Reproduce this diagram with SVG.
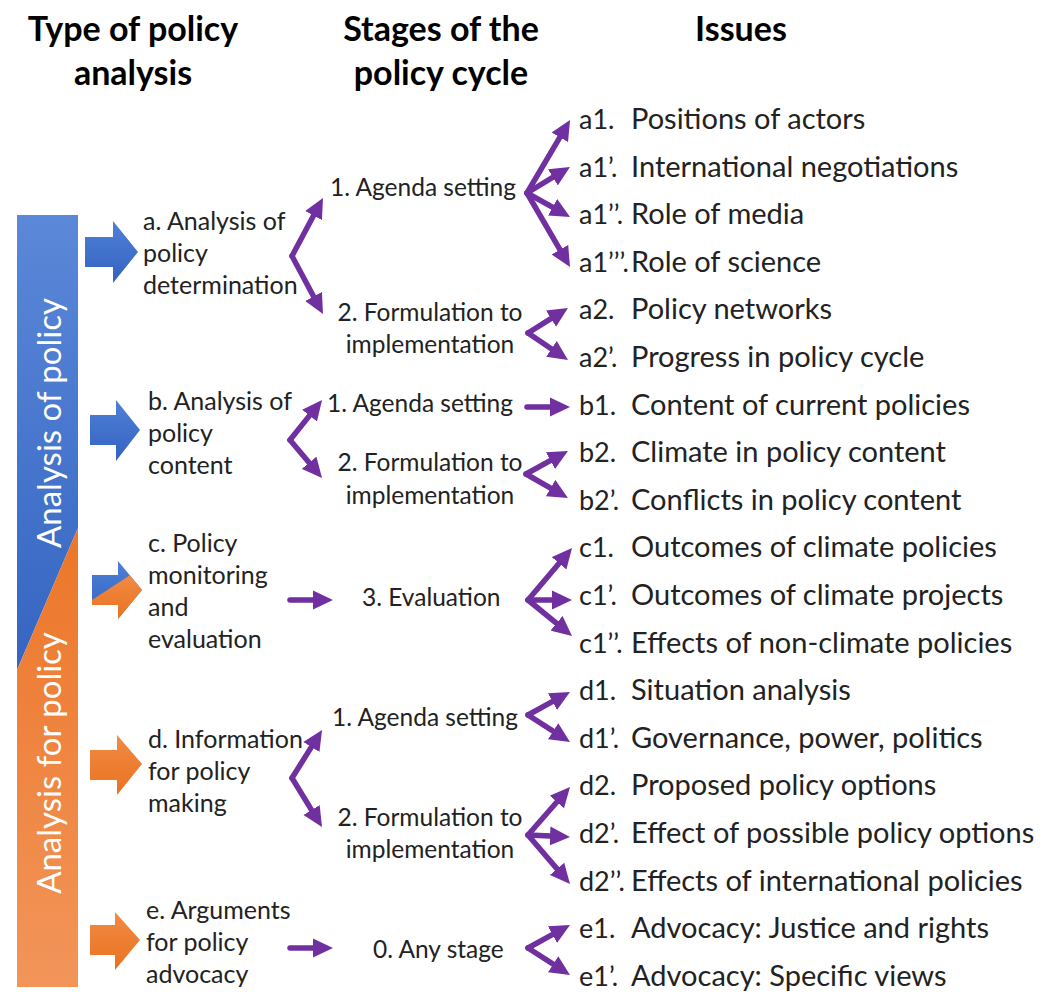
<svg xmlns="http://www.w3.org/2000/svg" width="1040" height="993" viewBox="0 0 1040 993">
<defs>
<linearGradient id="gBlue" x1="0" y1="0" x2="0" y2="1"><stop offset="0" stop-color="#5b88d8"/><stop offset="1" stop-color="#3565c2"/></linearGradient>
<linearGradient id="gOrange" x1="0" y1="0" x2="0" y2="1"><stop offset="0" stop-color="#ec7628"/><stop offset="1" stop-color="#f2955a"/></linearGradient>
<linearGradient id="gArB" x1="0" y1="0" x2="0" y2="1"><stop offset="0" stop-color="#4f80d6"/><stop offset="1" stop-color="#3363c0"/></linearGradient>
<linearGradient id="gArO" x1="0" y1="0" x2="0" y2="1"><stop offset="0" stop-color="#f28a45"/><stop offset="1" stop-color="#e8731f"/></linearGradient>
<marker id="ah" viewBox="0 0 20 20" markerUnits="userSpaceOnUse" markerWidth="20" markerHeight="20" refX="6" refY="10" orient="auto"><path d="M0,0.5 L20,10 L0,19.5 z" fill="#7030A0"/></marker>
</defs>
<style>
text{font-family:Lato,"Open Sans","Liberation Sans",sans-serif;fill:#222;}
.h{font-size:34px;font-weight:bold;fill:#000;text-anchor:middle;}
.t1{font-size:25px;}
.t2{font-size:24.5px;}
.t3{font-size:29px;}
.l{font-size:27px;}
.m{text-anchor:middle;}
.bar{font-size:33px;fill:#fff;text-anchor:middle;}
.c{stroke:#7030A0;stroke-width:5.5;fill:none;stroke-linecap:round;marker-end:url(#ah);}
</style>
<rect width="1040" height="993" fill="#fff"/>

<g id="headers">
<text class="h" x="133" y="41">Type of policy</text>
<text class="h" x="133" y="85">analysis</text>
<text class="h" x="441" y="41">Stages of the</text>
<text class="h" x="441" y="85">policy cycle</text>
<text class="h" x="741" y="41">Issues</text>
</g>

<g id="sidebar">
<polygon points="17,215 78,215 78,528 17,670" fill="url(#gBlue)"/>
<polygon points="78,528 78,987 17,987 17,670" fill="url(#gOrange)"/>
<text class="bar" transform="translate(61,423) rotate(-90)">Analysis of policy</text>
<text class="bar" transform="translate(61,763) rotate(-90)">Analysis for policy</text>
</g>

<g id="type-a">
<polygon points="85,237 113,237 113,221 138,252 113,283 113,267 85,267" fill="url(#gArB)"/>
<text class="t1" x="143" y="230">a. Analysis of</text>
<text class="t1" x="143" y="262">policy</text>
<text class="t1" x="143" y="294">determination</text>
</g>
<g id="type-b">
<polygon points="90,415 116,415 116,400 140,430 116,461 116,445 90,445" fill="url(#gArB)"/>
<text class="t1" x="148" y="410">b. Analysis of</text>
<text class="t1" x="148" y="442">policy</text>
<text class="t1" x="148" y="474">content</text>
</g>
<g id="type-c">
<polygon points="92,575 118,575 118,561 142,590 118,619 118,605 92,605" fill="url(#gArB)"/>
<polygon points="92,600 129.9,575.3 142,590 118,619 118,605 92,605" fill="url(#gArO)"/>
<text class="t1" x="148" y="552">c. Policy</text>
<text class="t1" x="148" y="584">monitoring</text>
<text class="t1" x="148" y="616">and</text>
<text class="t1" x="148" y="648">evaluation</text>
</g>
<g id="type-d">
<polygon points="90,750 117,750 117,735 142,764 117,795 117,780 90,780" fill="url(#gArO)"/>
<text class="t1" x="148" y="748">d. Information</text>
<text class="t1" x="148" y="780">for policy</text>
<text class="t1" x="148" y="812">making</text>
</g>
<g id="type-e">
<polygon points="90,925 115,925 115,912 140,940 115,970 115,955 90,955" fill="url(#gArO)"/>
<text class="t1" x="146" y="919">e. Arguments</text>
<text class="t1" x="146" y="951">for policy</text>
<text class="t1" x="146" y="983">advocacy</text>
</g>

<g id="stages">
<text class="t2" x="330" y="196">1. Agenda setting</text>
<text class="t2 m" x="430" y="321">2. Formulation to</text>
<text class="t2 m" x="430" y="353">implementation</text>
<text class="t2" x="327" y="412">1. Agenda setting</text>
<text class="t2 m" x="430" y="471">2. Formulation to</text>
<text class="t2 m" x="430" y="504">implementation</text>
<text class="t2" x="362" y="606">3. Evaluation</text>
<text class="t2" x="332" y="726">1. Agenda setting</text>
<text class="t2 m" x="430" y="826">2. Formulation to</text>
<text class="t2 m" x="430" y="858">implementation</text>
<text class="t2" x="373" y="958">0. Any stage</text>
</g>

<g id="issues">
<text class="l" x="579" y="129">a1.</text><text class="t3" x="631" y="129">Positions of actors</text>
<text class="l" x="579" y="177">a1’.</text><text class="t3" x="631" y="177">International negotiations</text>
<text class="l" x="579" y="224">a1’’.</text><text class="t3" x="631" y="224">Role of media</text>
<text class="l" x="579" y="272">a1’’’.</text><text class="t3" x="631" y="272">Role of science</text>
<text class="l" x="579" y="319">a2.</text><text class="t3" x="631" y="319">Policy networks</text>
<text class="l" x="579" y="367">a2’.</text><text class="t3" x="631" y="367">Progress in policy cycle</text>
<text class="l" x="579" y="415">b1.</text><text class="t3" x="631" y="415">Content of current policies</text>
<text class="l" x="579" y="462">b2.</text><text class="t3" x="631" y="462">Climate in policy content</text>
<text class="l" x="579" y="510">b2’.</text><text class="t3" x="631" y="510">Conflicts in policy content</text>
<text class="l" x="579" y="557">c1.</text><text class="t3" x="631" y="557">Outcomes of climate policies</text>
<text class="l" x="579" y="605">c1’.</text><text class="t3" x="631" y="605">Outcomes of climate projects</text>
<text class="l" x="579" y="653">c1’’.</text><text class="t3" x="631" y="653">Effects of non-climate policies</text>
<text class="l" x="579" y="700">d1.</text><text class="t3" x="631" y="700">Situation analysis</text>
<text class="l" x="579" y="748">d1’.</text><text class="t3" x="631" y="748">Governance, power, politics</text>
<text class="l" x="579" y="795">d2.</text><text class="t3" x="631" y="795">Proposed policy options</text>
<text class="l" x="579" y="843">d2’.</text><text class="t3" x="631" y="843">Effect of possible policy options</text>
<text class="l" x="579" y="891">d2’’.</text><text class="t3" x="631" y="891">Effects of international policies</text>
<text class="l" x="579" y="938">e1.</text><text class="t3" x="631" y="938">Advocacy: Justice and rights</text>
<text class="l" x="579" y="986">e1’.</text><text class="t3" x="631" y="986">Advocacy: Specific views</text>
</g>

<g id="connectors">
<path class="c" d="M292,256 L316.4,210.3"/>
<path class="c" d="M292,256 L316.4,301.7"/>
<path class="c" d="M527,193 L562.9,132.1"/>
<path class="c" d="M527,193 L558,174.2"/>
<path class="c" d="M527,193 L557.8,210.2"/>
<path class="c" d="M527,193 L563,254.9"/>
<path class="c" d="M528,333 L556.1,315.4"/>
<path class="c" d="M528,333 L556.4,352.2"/>
<path class="c" d="M527,407 L556,407"/>
<path class="c" d="M290,440 L313.3,410.9"/>
<path class="c" d="M290,440 L313,467.3"/>
<path class="c" d="M526,474 L555.7,457.7"/>
<path class="c" d="M526,474 L555.8,491.1"/>
<path class="c" d="M290,600 L319,600"/>
<path class="c" d="M528,600 L563,558.7"/>
<path class="c" d="M528,600 L558,600"/>
<path class="c" d="M528,600 L561.2,627.1"/>
<path class="c" d="M292,778 L314.6,741.9"/>
<path class="c" d="M292,778 L314.7,815.1"/>
<path class="c" d="M528,715 L557.7,698.7"/>
<path class="c" d="M528,715 L558.2,734.4"/>
<path class="c" d="M528,835 L560.8,797.5"/>
<path class="c" d="M528,835 L556,836.3"/>
<path class="c" d="M528,835 L560.9,873.4"/>
<path class="c" d="M290,948 L319,948"/>
<path class="c" d="M528,948 L557.7,931.7"/>
<path class="c" d="M528,948 L558.2,967.4"/>
</g>
</svg>
